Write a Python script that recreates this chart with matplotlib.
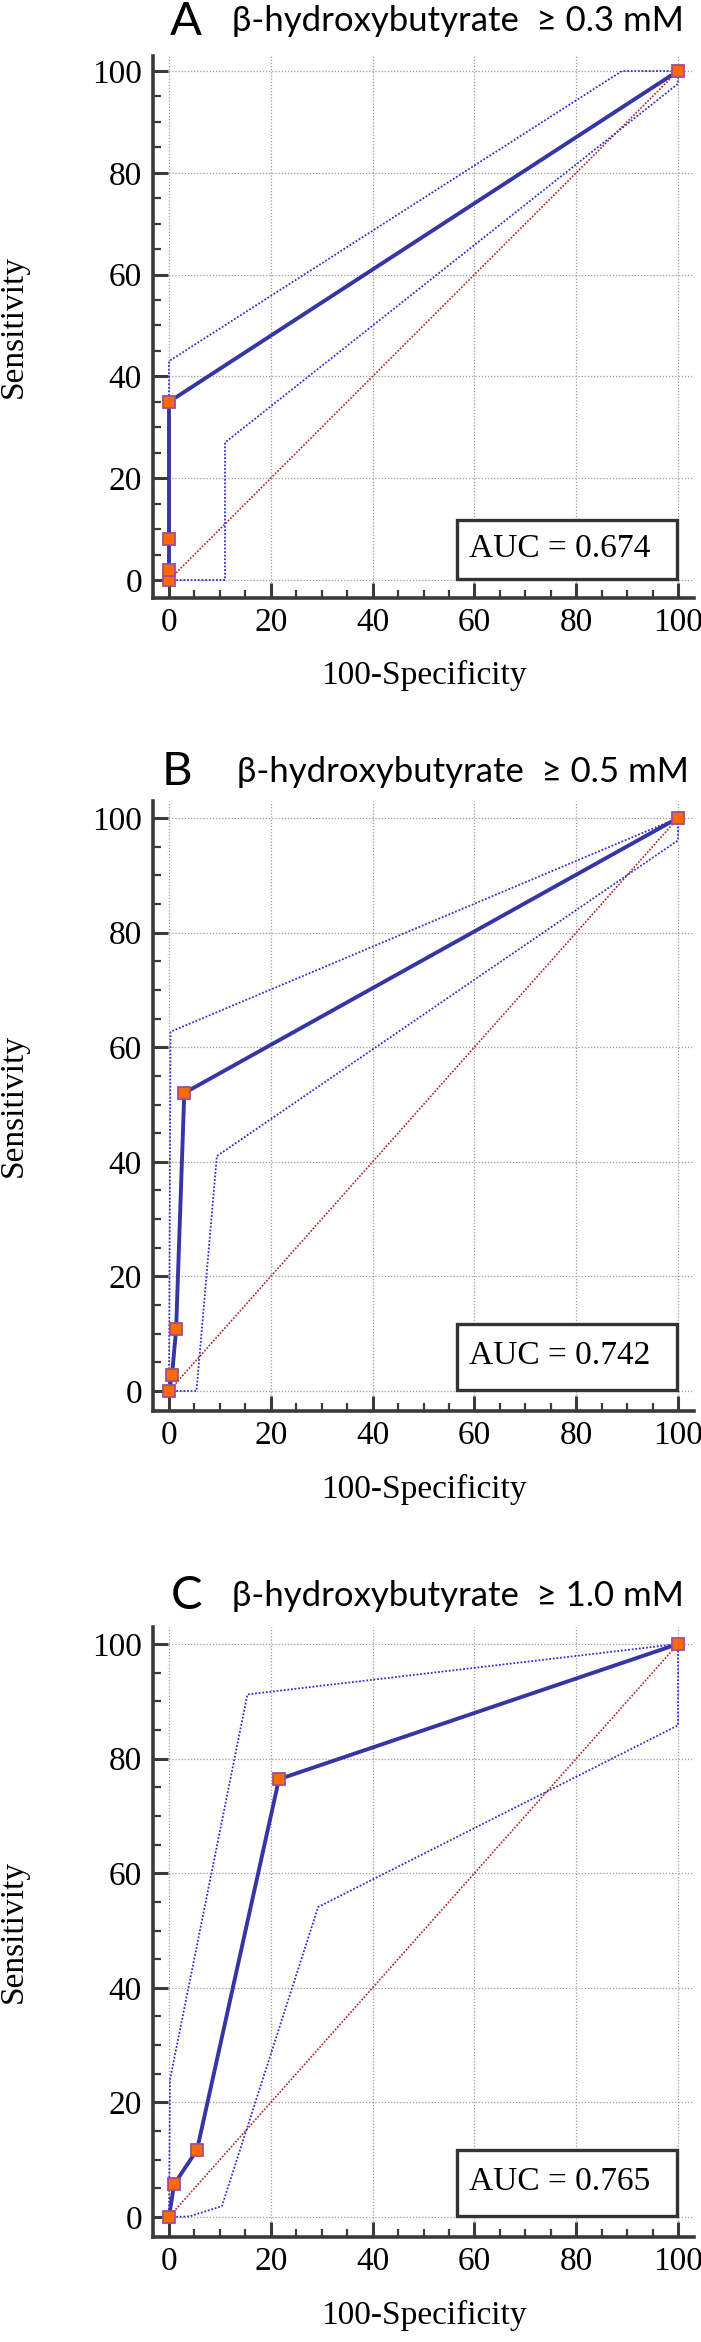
import matplotlib
matplotlib.use("Agg")
import matplotlib.pyplot as plt
from matplotlib.patches import Rectangle
from matplotlib.ticker import MultipleLocator

plt.rcParams["font.family"] = ["Liberation Serif", "DejaVu Serif"]

panel_letters = ["A", "B", "C"]
thresholds = ["0.3", "0.5", "1.0"]
auc_values = [0.674, 0.742, 0.765]

# ROC points (100-specificity, sensitivity)
roc_fpr = [
    [0, 0, 0, 0, 100],
    [0, 0.6, 1.4, 3.0, 100],
    [0, 1.0, 5.5, 21.6, 100],
]
roc_tpr = [
    [0, 2, 8, 35, 100],
    [0, 2.8, 10.8, 52, 100],
    [0, 5.7, 11.7, 76.4, 100],
]

# upper / lower confidence bounds
upper_x = [
    [0, 0, 89, 100],
    [0, 0.3, 100],
    [0, 0.2, 15.4, 100],
]
upper_y = [
    [0, 43, 100, 100],
    [0, 62.7, 100],
    [0, 24, 91.2, 100],
]
lower_x = [
    [0, 11, 11, 100, 100],
    [0, 5.4, 9.4, 100, 100],
    [0, 4, 10.4, 29.3, 100, 100],
]
lower_y = [
    [0, 0, 27, 97.5, 100],
    [0, 0, 41, 96.1, 100],
    [0, 0.1, 1.9, 54.1, 85.8, 100],
]

ticks = [0, 20, 40, 60, 80, 100]

W, H = 701, 2342
fig = plt.figure(figsize=(W / 100, H / 100), dpi=100)

# pixel layout of each panel
x0_px, x100_px = 169, 678
y0_px = [580, 1391, 2217]
y100_px = [71, 818, 1644]
xlim = (-3.1, 103.1)
ylim = (-3.5, 103.0)
letter_pos = [(186, 22), (177, 772), (187, 1596)]
title_pos = [(232, 21), (237, 772), (232, 1596)]
title_width = 452

spine_col = "#3a3a3a"
sans = ["Lato", "DejaVu Sans"]

titles = []
for i in range(3):
    ppx = (x100_px - x0_px) / 100.0
    ppy = (y0_px[i] - y100_px[i]) / 100.0
    l = x0_px + xlim[0] * ppx
    r = x0_px + xlim[1] * ppx
    b = y0_px[i] - ylim[0] * ppy
    t = y0_px[i] - ylim[1] * ppy
    ax = fig.add_axes([l / W, 1 - b / H, (r - l) / W, (b - t) / H])
    ax.set_xlim(*xlim)
    ax.set_ylim(*ylim)
    for s in ["top", "right"]:
        ax.spines[s].set_visible(False)
    for s in ["left", "bottom"]:
        ax.spines[s].set_linewidth(2.6)
        ax.spines[s].set_color(spine_col)
    ax.set_xticks(ticks)
    ax.set_yticks(ticks)
    ax.xaxis.set_minor_locator(MultipleLocator(5))
    ax.yaxis.set_minor_locator(MultipleLocator(5))
    ax.tick_params(which="major", direction="in", length=10.5, width=2.2,
                   color=spine_col, labelsize=24)
    ax.tick_params(axis="x", which="major", pad=7)
    ax.tick_params(axis="y", which="major", pad=8)
    ax.tick_params(which="minor", direction="in", length=5.5, width=1.6,
                   color=spine_col)
    ax.grid(True, which="major", color="#9a9a9a", linestyle=(0, (1, 1.5)),
            linewidth=0.9)
    ax.set_axisbelow(True)

    ax.plot([0, 100], [0, 100], color="#b22222", linestyle=(0, (1, 1)),
            linewidth=1.2, zorder=2)
    ax.plot(upper_x[i], upper_y[i], color="#3030d0", linestyle=(0, (1, 1)),
            linewidth=1.3, zorder=2)
    ax.plot(lower_x[i], lower_y[i], color="#3030d0", linestyle=(0, (1, 1)),
            linewidth=1.3, zorder=2)
    ax.plot(roc_fpr[i], roc_tpr[i], color="#3535a5", linewidth=2.8,
            marker="s", markersize=9, markerfacecolor="#ff6a00",
            markeredgecolor="#a0508f", markeredgewidth=1.3, zorder=4,
            clip_on=False)

    ax.add_patch(Rectangle((56.5, 0.2), 43.3, 11.5, facecolor="white",
                           edgecolor="#333333", linewidth=2.4, zorder=3))
    ax.text(76.8, 6.1, f"AUC = {auc_values[i]:.3f}", ha="center",
            va="center", fontsize=24, zorder=5)

    ax_w = r - l
    ax_h = b - t
    ax.set_xlabel("100-Specificity", fontsize=24, va="center")
    ax.xaxis.set_label_coords(0.5, -78 / ax_h)
    ax.set_ylabel("Sensitivity", fontsize=24, va="center")
    ax.yaxis.set_label_coords((14 - l) / ax_w, 0.5)

    lx, ly = letter_pos[i]
    fig.text(lx / W, 1 - ly / H, panel_letters[i], ha="center", va="center",
             fontsize=34, family=sans)
    tx, ty = title_pos[i]
    titles.append(fig.text(tx / W, 1 - ty / H,
                           f"\u03b2-hydroxybutyrate  \u2265 {thresholds[i]} mM",
                           ha="left", va="center", fontsize=24, family=sans))

# fit the subtitle width to the reference
fig.canvas.draw()
renderer = fig.canvas.get_renderer()
for txt in titles:
    w = txt.get_window_extent(renderer).width
    txt.set_fontsize(24 * title_width / w)

fig.savefig("out.png", dpi=100)
